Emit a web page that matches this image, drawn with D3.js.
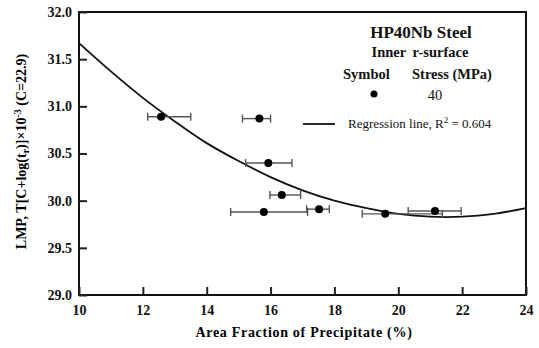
<!DOCTYPE html>
<html>
<head>
<meta charset="utf-8">
<script src="https://cdn.jsdelivr.net/npm/d3@7"></script>
<style>
  body { margin: 0; background: #fff; }
</style>
</head>
<body>
<svg width="539" height="348" font-family="Liberation Serif"></svg>
<script>
// measured points (area fraction %, LMP) with x error bars
const areaFraction = [12.57, 15.65, 15.93, 16.35, 15.79, 17.52, 19.59, 21.15]
const lmpValues = [30.89, 30.87, 30.40, 30.06, 29.88, 29.91, 29.86, 29.89]
const errLow = [12.15, 15.12, 15.22, 15.98, 14.75, 17.13, 18.87, 20.31]
const errHigh = [13.50, 16.00, 16.67, 16.94, 17.16, 17.84, 21.38, 21.97]

// regression line
const fitX = [10, 11, 12, 13, 14, 15, 16, 17, 18, 19, 20, 21, 22, 23, 24]
const fitY = [31.67, 31.37, 31.09, 30.84, 30.61, 30.42, 30.25, 30.11, 30.00, 29.92, 29.86, 29.83, 29.83, 29.86, 29.92]

const xTicks = [10, 12, 14, 16, 18, 20, 22, 24]
const yTicks = [29.0, 29.5, 30.0, 30.5, 31.0, 31.5, 32.0]

const FONT = 'Liberation Serif'
const svg = d3.select('svg')
const plotL = 79, plotR = 526, plotT = 12, plotB = 295

const x = d3.scaleLinear().domain([10, 24]).range([plotL, plotR])
const y = d3.scaleLinear().domain([29, 32]).range([plotB, plotT])

// frame
svg.append('rect')
    .attr('x', plotL).attr('y', plotT)
    .attr('width', plotR - plotL).attr('height', plotB - plotT)
    .attr('fill', 'none').attr('stroke', '#111').attr('stroke-width', 2)

// axes with inward ticks
const xAxis = svg.append('g')
    .attr('transform', `translate(0,${plotB})`)
    .call(d3.axisBottom(x).tickValues(xTicks).tickSize(-8).tickFormat(d3.format('d')))
const yAxis = svg.append('g')
    .attr('transform', `translate(${plotL},0)`)
    .call(d3.axisLeft(y).tickValues(yTicks).tickSize(-8).tickFormat(d3.format('.1f')))

for (let ax of [xAxis, yAxis]) {
    ax.attr('font-family', FONT).attr('font-size', 14).attr('font-weight', 'bold')
    ax.select('.domain').remove()
    ax.selectAll('.tick line').attr('stroke', '#222').attr('stroke-width', 2)
    ax.selectAll('.tick text').attr('fill', '#111')
}
yAxis.selectAll('.tick text').attr('x', -7)
xAxis.selectAll('.tick text').attr('y', 10)

// axis titles
svg.append('text')
    .attr('x', 304).attr('y', 337)
    .attr('text-anchor', 'middle')
    .attr('font-family', FONT)
    .attr('font-weight', 'bold').attr('font-size', 14)
    .attr('letter-spacing', 0.7)
    .text('Area Fraction of Precipitate (%)')

const yTitle = svg.append('text')
    .attr('transform', `translate(26,${(plotT + plotB) / 2 - 2}) rotate(-90)`)
    .attr('text-anchor', 'middle')
    .attr('font-family', FONT)
    .attr('font-weight', 'bold').attr('font-size', 14)
yTitle.append('tspan').text('LMP, T[C+log(t')
yTitle.append('tspan').attr('font-size', 10).attr('dy', 3).text('r')
yTitle.append('tspan').attr('dy', -3).text(')]\u00d710')
yTitle.append('tspan').attr('font-size', 10).attr('dy', -5).text('-3')
yTitle.append('tspan').attr('dy', 5).text(' (C=22.9)')

// regression curve
const line = d3.line()
    .x((d, i) => x(fitX[i]))
    .y(d => y(d))
    .curve(d3.curveCatmullRom)
svg.append('path')
    .datum(fitY)
    .attr('d', line)
    .attr('fill', 'none').attr('stroke', '#111').attr('stroke-width', 1.8)

// error bars
const bars = svg.append('g').attr('stroke', '#555').attr('stroke-width', 1.4)
areaFraction.forEach((v, i) => {
    const cy = y(lmpValues[i])
    bars.append('line').attr('x1', x(errLow[i])).attr('x2', x(errHigh[i])).attr('y1', cy).attr('y2', cy)
    bars.append('line').attr('x1', x(errLow[i])).attr('x2', x(errLow[i])).attr('y1', cy - 4).attr('y2', cy + 4)
    bars.append('line').attr('x1', x(errHigh[i])).attr('x2', x(errHigh[i])).attr('y1', cy - 4).attr('y2', cy + 4)
})

svg.append('g')
    .selectAll('circle')
    .data(areaFraction)
    .enter().append('circle')
    .attr('cx', d => x(d))
    .attr('cy', (d, i) => y(lmpValues[i]))
    .attr('r', 4)
    .attr('fill', '#000')

// legend
const lg = svg.append('g').attr('fill', '#111').attr('font-family', FONT)
lg.append('text').attr('x', 421).attr('y', 38).attr('text-anchor', 'middle')
    .attr('font-weight', 'bold').attr('font-size', 17).text('HP40Nb Steel')
lg.append('text').attr('x', 420).attr('y', 57).attr('text-anchor', 'middle')
    .attr('font-weight', 'bold').attr('font-size', 14.5).attr('word-spacing', 3).text('Inner r-surface')
lg.append('text').attr('x', 343).attr('y', 79)
    .attr('font-weight', 'bold').attr('font-size', 14.5).text('Symbol')
lg.append('text').attr('x', 412).attr('y', 79)
    .attr('font-weight', 'bold').attr('font-size', 14.5).text('Stress (MPa)')
lg.append('circle').attr('cx', 374).attr('cy', 94).attr('r', 3.5).attr('fill', '#000')
lg.append('text').attr('x', 435).attr('y', 100).attr('text-anchor', 'middle')
    .attr('font-size', 14.5).text('40')
lg.append('line').attr('x1', 303).attr('x2', 335).attr('y1', 124).attr('y2', 124)
    .attr('stroke', '#111').attr('stroke-width', 1.8)
const reg = lg.append('text').attr('x', 348).attr('y', 128).attr('font-size', 13)
reg.append('tspan').text('Regression line, R')
reg.append('tspan').attr('font-size', 9).attr('dy', -5).text('2')
reg.append('tspan').attr('dy', 5).text(' = 0.604')
</script>
</body>
</html>
